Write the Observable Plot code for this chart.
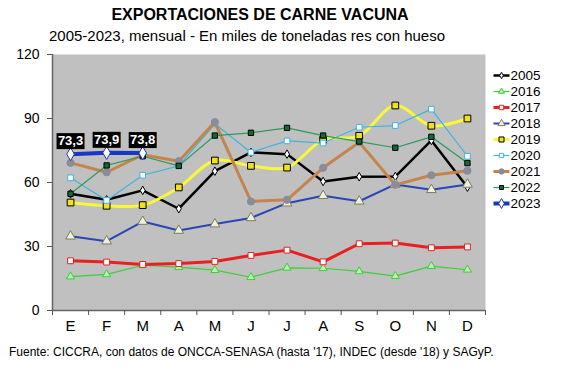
<!DOCTYPE html>
<html><head><meta charset="utf-8">
<script src="https://cdn.jsdelivr.net/npm/d3@7"></script>
<script src="https://cdn.jsdelivr.net/npm/@observablehq/plot@0.6"></script>
<style>
body{margin:0;background:#fff;font-family:"Liberation Sans",Arial,sans-serif;}
#wrap{position:relative;width:578px;height:382px;overflow:hidden;}
.t{position:absolute;white-space:nowrap;color:#000;}
</style></head>
<body><div id="wrap">
<div class="t" id="title" style="left:0;width:520px;text-align:center;top:6px;font-size:16px;font-weight:bold;">EXPORTACIONES DE CARNE VACUNA</div>
<div class="t" id="sub" style="left:0;width:494px;text-align:center;top:27px;font-size:15px;">2005-2023, mensual - En miles de toneladas res con hueso</div>
<div id="chart" style="position:absolute;left:0;top:44px;"></div>
<div id="legend" style="position:absolute;left:490px;top:54px;"></div>
<div class="t" id="cap" style="left:9px;top:345px;font-size:12px;">Fuente: CICCRA, con datos de ONCCA-SENASA (hasta '17), INDEC (desde '18) y SAGyP.</div>
</div>
<script>
const months = ["E","F","M","A","M","J","J","A","S","O","N","D"];
const yTicks = [0, 30, 60, 90, 120];
const seriesNames = ["2005","2016","2017","2018","2019","2020","2021","2022","2023"];
const s2005 = [54.7,51.9,56.3,47.7,65.3,74.1,73.3,60.5,62.7,62.8,79.7,57.8];
const s2016 = [15.9,16.9,21.2,20.3,18.9,15.6,20.0,19.8,18.3,16.1,20.8,19.1];
const s2017 = [23.3,22.7,21.6,22.0,23.0,25.8,28.3,22.8,31.3,31.6,29.4,29.8];
const s2018 = [34.8,32.5,41.7,37.5,40.5,43.4,50.3,53.8,51.2,59.1,56.6,59.1];
const s2019 = [50.6,49.1,49.4,57.7,70.3,67.8,67.0,80.0,81.9,96.1,86.6,90.0];
const s2020 = [62.2,51.6,63.4,67.8,87.5,74.1,79.5,78.5,85.9,86.7,94.4,72.3];
const s2021 = [69.2,64.8,73.0,70.0,88.3,51.1,51.9,66.9,78.9,58.9,63.4,65.5];
const s2022 = [54.7,68.0,72.3,67.8,82.0,83.3,85.6,82.0,79.2,76.3,81.4,69.1];
const s2023 = [73.3,73.9,73.8];

const values = {"2005":s2005,"2016":s2016,"2017":s2017,"2018":s2018,"2019":s2019,"2020":s2020,"2021":s2021,"2022":s2022,"2023":s2023};

const styles = {
  "2005": {stroke:"#000000", w:2.5, symbol:"diamond", r:2.6, fill:"#ffffff", mstroke:"#000000", curve:"linear"},
  "2016": {stroke:"#3ccf3c", w:1.2, symbol:"triangle", r:3, fill:"#b8f0b0", mstroke:"#3ccf3c", curve:"linear"},
  "2017": {stroke:"#e82020", w:3, symbol:"square", r:3.3, fill:"#ffffff", mstroke:"#e82020", curve:"linear"},
  "2018": {stroke:"#2846b4", w:2, symbol:"triangle", r:3.6, fill:"#eef0d8", mstroke:"#7c7c60", curve:"linear"},
  "2019": {stroke:"#f8f838", w:3, symbol:"square", r:3.8, fill:"#f0e020", mstroke:"#000000", curve:"catmull-rom"},
  "2020": {stroke:"#3cb4e4", w:1.2, symbol:"square", r:3.2, fill:"#ffffff", mstroke:"#3cb4e4", curve:"linear"},
  "2021": {stroke:"#c4844c", w:3, symbol:"circle", r:3.6, fill:"#8a8c9c", mstroke:"#8a8c9c", curve:"linear"},
  "2022": {stroke:"#2e9a5a", w:1.2, symbol:"square", r:3, fill:"#106a34", mstroke:"#000000", curve:"linear"},
  "2023": {stroke:"#1a36c4", w:4, symbol:"diamond", r:4, fill:"#ffffff", mstroke:"#1a36c4", curve:"linear"}
};

const boxSymbol = {draw(ctx){ ctx.rect(-14,-8,28,16); }};
const fmt = v => v.toFixed(1).replace(".", ",");

const marks = [
  Plot.frame({fill:"#c0c0c0", stroke:null}),
  Plot.ruleX([-0.5], {stroke:"#666", strokeWidth:1.5}),
  Plot.ruleY([0], {stroke:"#666", strokeWidth:1.5}),
  Plot.axisY({ticks: yTicks, tickSize:5, tickPadding:8, fontSize:14, stroke:"#555"}),
  Plot.axisX({ticks: d3.range(-0.5, 12, 1), tickSize:5, tickFormat:()=>"", stroke:"#555"}),
  Plot.axisX({ticks: d3.range(0, 12), tickSize:0, tickPadding:10, fontSize:15, tickFormat: i => months[i]})
];
for (const s of seriesNames) {
  const st = styles[s];
  const data = values[s];
  marks.push(Plot.line(data, {x:(d,i)=>i, y:d=>d, stroke:st.stroke, strokeWidth:st.w, curve:st.curve}));
  marks.push(Plot.dot(data, {x:(d,i)=>i, y:d=>d, symbol:st.symbol, r:st.r, fill:st.fill, stroke:st.mstroke, strokeWidth:1}));
}
marks.push(Plot.dot(s2023, {x:(d,i)=>i, y:d=>d, symbol:boxSymbol, fill:"#000", stroke:null, dy:-13}));
marks.push(Plot.text(s2023, {x:(d,i)=>i, y:d=>d, text:d=>fmt(d), fill:"#fff", fontWeight:"bold", fontSize:13, dy:-13}));

const chart = Plot.plot({
  width:578, height:296,
  marginLeft:52, marginRight:93, marginTop:10, marginBottom:30,
  x:{domain:[-0.5, 11.5]},
  y:{domain:[0,120]},
  style:{fontFamily:"Liberation Sans, Arial, sans-serif", color:"#000", background:"transparent"},
  marks
});
document.getElementById("chart").append(chart);

// Legend
const lmarks = [];
for (const s of seriesNames) {
  const st = styles[s];
  lmarks.push(Plot.link([s], {x1:0, x2:1, y1:d=>d, y2:d=>d, stroke:st.stroke, strokeWidth:st.w}));
  lmarks.push(Plot.dot([s], {x:0.5, y:d=>d, symbol:st.symbol, r:st.r * 0.75, fill:st.fill, stroke:st.mstroke, strokeWidth:1}));
}
lmarks.push(Plot.text(seriesNames, {x:1, y:d=>d, text:d=>d, textAnchor:"start", dx:1, fontSize:13.5}));
const legend = Plot.plot({
  width:88, height:170, margin:0,
  x:{domain:[0,1], range:[3,19], axis:null},
  y:{type:"point", domain:seriesNames, range:[9.7,160], axis:null},
  style:{fontFamily:"Liberation Sans, Arial, sans-serif", color:"#000", background:"transparent"},
  marks:lmarks
});
document.getElementById("legend").append(legend);
</script>
</body></html>
